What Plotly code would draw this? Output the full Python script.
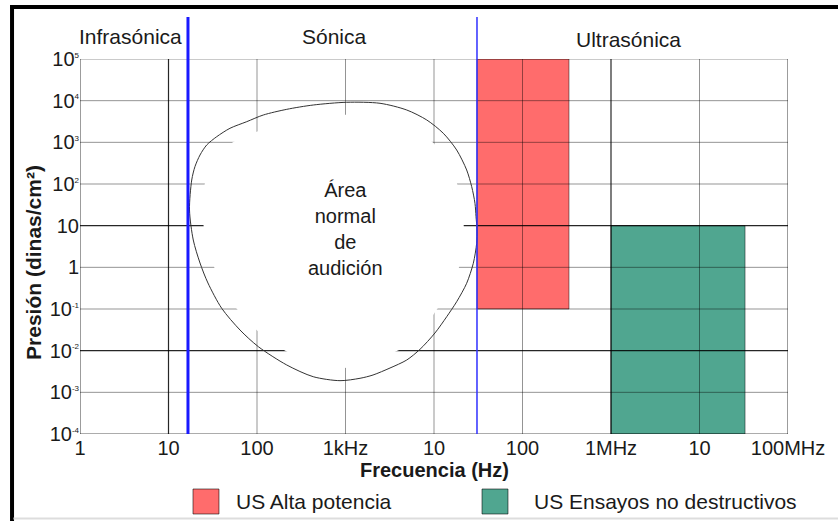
import numpy as np
import plotly.graph_objects as go

# ---------------- data ----------------
freq_ticks = [1, 10, 100, 1e3, 1e4, 1e5, 1e6, 1e7, 1e8]
freq_tick_labels = ["1", "10", "100", "1kHz", "10", "100", "1MHz", "10", "100MHz"]
freq_dark = [10, 1e6]            # darker vertical grid lines

pres_ticks = [1e-4, 1e-3, 1e-2, 1e-1, 1, 10, 1e2, 1e3, 1e4, 1e5]
pres_tick_exp = ["-4", "-3", "-2", "-1", None, None, "2", "3", "4", "5"]
pres_tick_base = ["10", "10", "10", "10", "1", "10", "10", "10", "10", "10"]
pres_dark = [1e-2, 10]           # darker horizontal grid lines

# hearing area outline (Hz, dinas/cm2), clockwise from the top
curve_freq = [1032, 2455, 4920, 8280, 12740, 18030, 23390, 26670, 29040, 29850,
              30620, 30340, 27800, 23390, 18030, 13930, 10250, 6950, 4920, 3184,
              2046, 1459, 867, 432, 217, 103.5, 64.3, 39.9, 27.9, 22.7,
              19.05, 17.27, 18.3, 19.9, 22.7, 27.0, 35.1, 49.5, 76.6, 117.8,
              216.8, 432.5]
curve_pres = [9140, 8650, 5970, 3440, 1650, 655, 217, 86.3, 34.4, 16.4,
              7.87, 3.78, 1.25, 0.414, 0.1496, 0.0655, 0.02655, 0.01079, 0.00597, 0.003837,
              0.002606, 0.002173, 0.001905, 0.002371, 0.004529, 0.01247, 0.0313, 0.104, 0.421, 1.27,
              4.53, 23.8, 124.7, 260.6, 496.6, 863, 1368, 2173, 3133, 4529,
              6194, 7870]

# region boundaries
infra_limit = 16.6
ultra_limit = 30600

# ultrasound bands
alta_freq = [30600, 335000]
alta_pres = [0.1, 1e5]
ndt_freq = [1e6, 3.27e7]
ndt_pres = [1e-4, 10]

region_names = ["Infrasónica", "Sónica", "Ultrasónica"]
legend_names = ["US Alta potencia", "US Ensayos no destructivos"]
red = "rgb(255,108,108)"
green = "rgb(80,166,144)"

FONT = "Liberation Sans, Arial, sans-serif"
TXT = "#1a1a1a"

fig = go.Figure()

def rect(xs, ys, color):
    return go.Scatter(x=[xs[0], xs[1], xs[1], xs[0], xs[0]],
                      y=[ys[0], ys[0], ys[1], ys[1], ys[0]],
                      mode="lines", fill="toself", fillcolor=color,
                      line=dict(color="rgba(0,0,0,0.45)", width=1),
                      hoverinfo="skip", showlegend=False)

fig.add_trace(rect(alta_freq, alta_pres, red))
fig.add_trace(rect(ndt_freq, ndt_pres, green))

# grid lines
def grid_xy(vals_x, vals_y):
    gx, gy = [], []
    for v in vals_x:
        gx += [v, v, None]
        gy += [pres_ticks[0], pres_ticks[-1], None]
    for v in vals_y:
        gx += [freq_ticks[0], freq_ticks[-1], None]
        gy += [v, v, None]
    return gx, gy

gx, gy = grid_xy([v for v in freq_ticks if v not in freq_dark and v not in (1, 1e8)],
                 [v for v in pres_ticks if v not in pres_dark and v != 1e-4])
fig.add_trace(go.Scatter(x=gx, y=gy, mode="lines", line=dict(color="rgba(0,0,0,0.42)", width=1),
                         hoverinfo="skip", showlegend=False))
gx, gy = grid_xy([1, 1e8], [1e-4])
fig.add_trace(go.Scatter(x=gx, y=gy, mode="lines", line=dict(color="rgba(0,0,0,0.65)", width=1.2),
                         hoverinfo="skip", showlegend=False))
gx, gy = grid_xy(freq_dark, pres_dark)
fig.add_trace(go.Scatter(x=gx, y=gy, mode="lines", line=dict(color="rgba(0,0,0,0.85)", width=1.2),
                         hoverinfo="skip", showlegend=False))

# white mask inside hearing area (slightly inset so grid stubs remain)
lx = np.log10(curve_freq)
ly = np.log10(curve_pres)
cx = (lx.min() + lx.max()) / 2
cy = (ly.min() + ly.max()) / 2
k = 0.91
mx = 10 ** (cx + k * (lx - cx))
my = 10 ** (cy + k * (ly - cy))
fig.add_trace(go.Scatter(x=list(mx) + [mx[0]], y=list(my) + [my[0]], mode="lines",
                         fill="toself", fillcolor="white",
                         line=dict(color="white", width=0, shape="spline", smoothing=0.8),
                         hoverinfo="skip", showlegend=False))
# outline
fig.add_trace(go.Scatter(x=curve_freq + [curve_freq[0]], y=curve_pres + [curve_pres[0]],
                         mode="lines", line=dict(color="#333", width=1, shape="spline", smoothing=0.8),
                         hoverinfo="skip", showlegend=False))

# blue boundary lines
fig.add_shape(type="line", xref="x", yref="paper", x0=infra_limit, x1=infra_limit,
              y0=0, y1=1.112, line=dict(color="#1a1aff", width=3), layer="above")
fig.add_shape(type="line", xref="x", yref="paper", x0=ultra_limit, x1=ultra_limit,
              y0=0, y1=1.112, line=dict(color="#3030ff", width=1.5), layer="above")

# region labels
for name, px, py in zip(region_names, [0.072, 0.360, 0.7754], [1.0587, 1.0587, 1.0507]):
    fig.add_annotation(text=name, xref="paper", yref="paper", x=px, y=py, showarrow=False,
                       xanchor="center", yanchor="middle", font=dict(family=FONT, size=21, color=TXT))

fig.add_annotation(text="Área<br>normal<br>de<br>audición", xref="x", yref="y", x=np.log10(990),
                   y=np.log10(8.3), showarrow=False, xanchor="center", yanchor="middle",
                   font=dict(family=FONT, size=20, color=TXT))

# axis titles
fig.add_annotation(text="<b>Frecuencia (Hz)</b>", xref="paper", yref="paper", x=0.5014, y=-0.096,
                   showarrow=False, xanchor="center", yanchor="middle",
                   font=dict(family=FONT, size=20, color=TXT))
fig.add_annotation(text="<b>Presión (dinas/cm²)</b>", xref="paper", yref="paper", x=-0.065, y=0.4587,
                   showarrow=False, xanchor="center", yanchor="middle", textangle=-90,
                   font=dict(family=FONT, size=21, color=TXT))

# legend (manual)
for name, col, x0, x1, tx in zip(legend_names, [red, green], [0.1596, 0.5678], [0.1963, 0.6045],
                                 [0.2175, 0.6384]):
    fig.add_shape(type="rect", xref="paper", yref="paper", x0=x0, x1=x1, y0=-0.2133, y1=-0.1467,
                  fillcolor=col, line=dict(color="rgba(0,0,0,0.55)", width=1))
    fig.add_annotation(text=name, xref="paper", yref="paper", x=tx, y=-0.1787, showarrow=False,
                       xanchor="left", yanchor="middle", font=dict(family=FONT, size=21, color=TXT))

# frame
fig.add_shape(type="line", xref="paper", yref="paper", x0=-0.0960, x1=-0.0960, y0=-0.235, y1=1.144,
              line=dict(color="black", width=4))
fig.add_shape(type="line", xref="paper", yref="paper", x0=-0.0985, x1=1.08, y0=1.1387, y1=1.1387,
              line=dict(color="black", width=4))
fig.add_shape(type="line", xref="paper", yref="paper", x0=-0.094, x1=1.08, y0=-0.2256, y1=-0.2256,
              line=dict(color="#dddddd", width=2))

ytext = []
for b, e in zip(pres_tick_base, pres_tick_exp):
    if e is None:
        ytext.append(b)
    else:
        ytext.append(f"{b}<sup><span style='font-size:8px'>{e}</span></sup>")

fig.update_xaxes(type="log", range=[0, 8], tickvals=freq_ticks, ticktext=freq_tick_labels,
                 showgrid=False, zeroline=False, showline=False, ticks="",
                 tickfont=dict(family=FONT, size=20, color=TXT))
fig.update_yaxes(type="log", range=[-4, 5], tickvals=pres_ticks, ticktext=ytext,
                 showgrid=False, zeroline=False, showline=False, ticks="",
                 tickfont=dict(family=FONT, size=20, color=TXT))

fig.update_layout(width=838, height=521, margin=dict(l=80, r=50, t=59, b=87),
                  paper_bgcolor="white", plot_bgcolor="white", showlegend=False)

fig.write_html("out.html")
